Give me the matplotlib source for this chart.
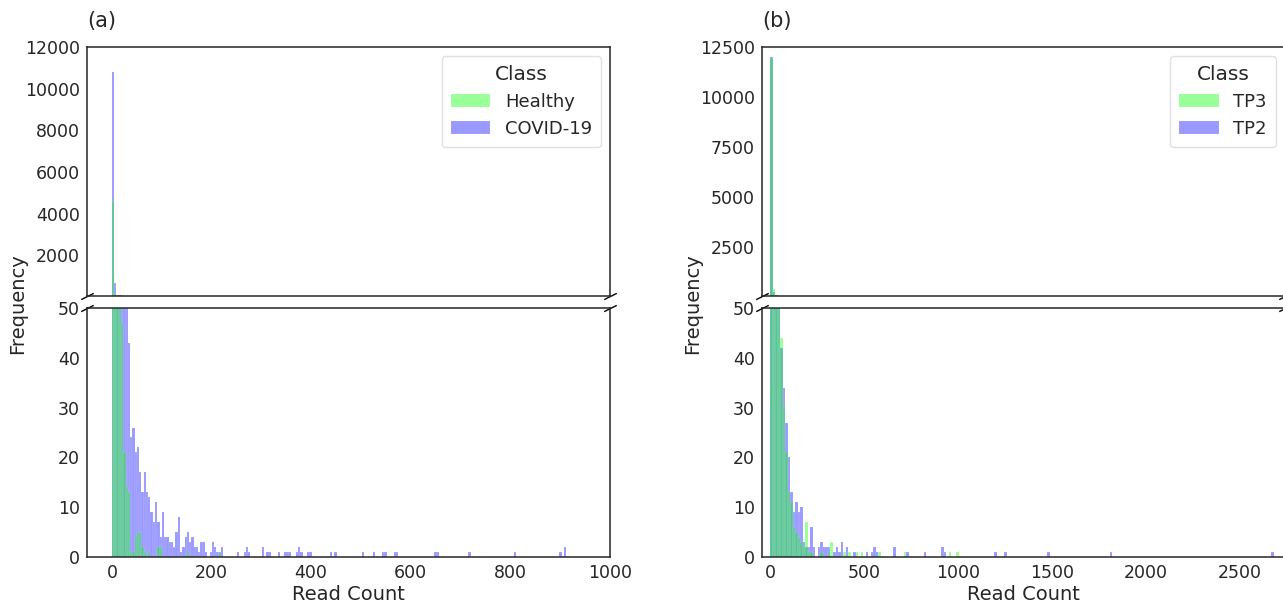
import numpy as np
import matplotlib.pyplot as plt

plt.rcParams['font.family'] = ['DejaVu Sans']
plt.rcParams['text.color'] = '.15'
plt.rcParams['axes.labelcolor'] = '.15'
plt.rcParams['xtick.color'] = '.15'
plt.rcParams['ytick.color'] = '.15'

n_bins = 200

# (a) Healthy vs COVID-19 -- counts per bin (200 bins over 0..912 reads)
a_max_read = 912
healthy_head = [4600, 150, 90, 60, 47, 21, 14, 13, 1, 1, 4, 5, 5, 2, 1, 0, 1, 0, 0, 0, 2, 2]
healthy_tail_reads = [152, 216]
healthy_tail_counts = [1, 1]
covid_head = [10800, 650, 120, 95, 80, 70, 60, 43, 24, 26, 21, 22, 17, 13, 17, 13, 12, 9, 7, 11,
              7, 4, 9, 4, 4, 3, 3, 2, 5, 8, 1, 2, 4, 5, 3, 4, 2, 2, 1, 3,
              3, 1, 0, 1, 3, 2, 1, 1, 2]
covid_tail_reads = [253, 266, 271, 276, 303, 312, 317, 335, 349, 353, 358, 371, 376, 381, 394,
                    399, 440, 449, 504, 527, 545, 549, 567, 572, 650, 654, 718, 809, 900, 910]
covid_tail_counts = [1, 1, 2, 1, 2, 1, 1, 1, 1, 1, 1, 1, 2, 1, 1,
                     1, 1, 1, 1, 1, 1, 1, 1, 1, 1, 1, 1, 1, 1, 2]

# (b) TP3 vs TP2 -- counts per bin (200 bins over 0..2680 reads)
b_max_read = 2680
tp3_head = [11950, 420, 85, 55, 44, 30, 21, 13, 11, 6, 5, 4, 3, 2, 7, 1, 1, 0, 0, 0,
            1, 0, 0, 1, 3]
tp3_tail_reads = [395, 422, 462, 489, 583, 717, 958, 998]
tp3_tail_counts = [1, 1, 1, 1, 1, 1, 1, 1]
tp2_head = [12000, 250, 90, 60, 42, 34, 27, 20, 13, 9, 11, 9, 10, 3, 2, 2, 6, 2, 0, 2,
            3, 2, 2, 2, 0, 1, 2, 1, 3, 0, 2]
tp2_tail_reads = [449, 516, 543, 556, 570, 663, 730, 824, 918, 931, 1199, 1253, 1481, 1816, 2673]
tp2_tail_counts = [1, 1, 1, 2, 1, 2, 1, 1, 2, 1, 1, 1, 1, 1, 1]


def add_hist(ax, edges, head, tail_reads, tail_counts, color, label):
    centers = (edges[:-1] + edges[1:]) / 2
    x = np.concatenate([centers[:len(head)], tail_reads])
    w = np.concatenate([head, tail_counts])
    ax.hist(x, bins=edges, weights=w, color=color, alpha=0.4,
            edgecolor='white', linewidth=0.2, label=label)


def panel(fig, left, tag, edges, series, xlim, top_ylim, top_ticks, xticks):
    ax_top = fig.add_axes([left, 0.5132, 0.4076, 0.4095])
    ax_bot = fig.add_axes([left, 0.0839, 0.4076, 0.4095])
    # draw the second series first so the first one sits on top
    for ax in (ax_top, ax_bot):
        for s in series[::-1]:
            add_hist(ax, edges, *s)
        ax.set_xlim(*xlim)
        ax.tick_params(length=0, labelsize=12.5, pad=5)
        for sp in ax.spines.values():
            sp.set_color('.15')
            sp.set_linewidth(1.1)
    ax_top.set_ylim(*top_ylim)
    ax_top.set_yticks(top_ticks)
    ax_top.set_xticks([])
    ax_bot.set_ylim(0, 50)
    ax_bot.set_yticks([0, 10, 20, 30, 40, 50])
    ax_bot.set_xticks(xticks)
    ax_bot.set_xlabel('Read Count', fontsize=14, labelpad=2)
    ax_top.text(0.0, 1.08, tag, transform=ax_top.transAxes, fontsize=15)

    # legend in the order of the class labels
    h, l = ax_top.get_legend_handles_labels()
    leg = ax_top.legend(h[::-1], l[::-1], title='Class', loc='upper right',
                        fontsize=13, title_fontsize=14.5, frameon=True,
                        borderpad=0.5, handlelength=2.2)
    leg.get_frame().set_edgecolor('0.85')

    # break marks
    d = .5
    kw = dict(marker=[(-1, -d), (1, d)], markersize=9, linestyle='none',
              color='k', mec='k', mew=1, clip_on=False)
    ax_top.plot([0, 1], [0, 0], transform=ax_top.transAxes, **kw)
    ax_bot.plot([0, 1], [1, 1], transform=ax_bot.transAxes, **kw)
    return ax_top, ax_bot


fig = plt.figure(figsize=(12.83, 6.08), dpi=100)

edges_a = np.linspace(0, a_max_read, n_bins + 1)
panel(fig, 0.0678, '(a)', edges_a,
      [(healthy_head, healthy_tail_reads, healthy_tail_counts, 'lime', 'Healthy'),
       (covid_head, covid_tail_reads, covid_tail_counts, 'blue', 'COVID-19')],
      (-50, 1000), (50, 12000), [2000, 4000, 6000, 8000, 10000, 12000],
      [0, 200, 400, 600, 800, 1000])

edges_b = np.linspace(0, b_max_read, n_bins + 1)
panel(fig, 0.5939, '(b)', edges_b,
      [(tp3_head, tp3_tail_reads, tp3_tail_counts, 'lime', 'TP3'),
       (tp2_head, tp2_tail_reads, tp2_tail_counts, 'blue', 'TP2')],
      (-43, 2740), (50, 12500), [2500, 5000, 7500, 10000, 12500],
      [0, 500, 1000, 1500, 2000, 2500])

fig.text(0.014, 0.5, 'Frequency', rotation=90, va='center', ha='center', fontsize=14)
fig.text(0.54, 0.5, 'Frequency', rotation=90, va='center', ha='center', fontsize=14)

fig.savefig('out.png', dpi=100)
